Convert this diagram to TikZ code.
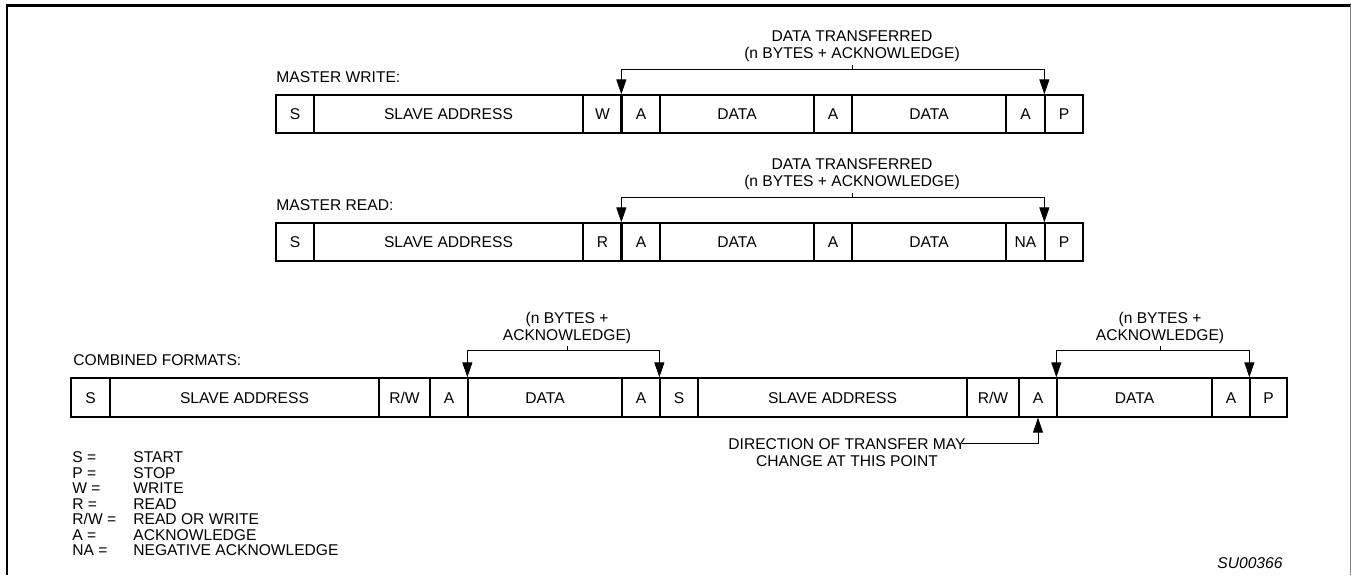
\documentclass[tikz,border=0pt]{standalone}
\usepackage{fontspec}
\setmainfont{Liberation Sans}
\usetikzlibrary{arrows.meta}
\tikzset{
  basefont/.style={font=\fontsize{7.8pt}{8.5pt}\selectfont},
  cell/.style={basefont, draw, line width=0.65pt, inner sep=0pt, text height=5.6pt, text depth=0pt, minimum height=19pt, anchor=center},
  cellc/.style={cell, minimum height=19.5pt},
  lbl/.style={basefont, inner sep=0pt, text height=5.6pt, text depth=0pt, anchor=west},
  tip/.tip={Triangle[length=7.5pt,width=5pt]},
  brk/.style={line width=0.5pt, tip-tip},
  tick/.style={line width=0.5pt},
  toplbl/.style={font=\fontsize{7.8pt}{8.5pt}\selectfont, align=center, inner sep=0pt},
  botlbl/.style={font=\fontsize{7.8pt}{6.5pt}\selectfont, align=center, inner sep=0pt},
  leg/.style={font=\fontsize{7.8pt}{7.75pt}\selectfont, align=left, inner sep=0pt, anchor=north west},
  thickdiv/.style={line width=1.1pt},
}
\newcommand\mycell[6][cell]{\node[#1, minimum width={(#4-#3)*0.5pt}] (#2) at ({(#3+#4)/2},#5) {#6};}
\begin{document}
\begin{tikzpicture}[x=0.5pt,y=-0.5pt]
\useasboundingbox (0,0) rectangle (1351,575);
% frame
\draw[line width=1.25pt] (7,575) -- (7,5.3) -- (1351,5.3);
\draw[gray, line width=0.5pt] (1350,5.3) -- (1350,575);

% ---- MASTER WRITE ----
\node[lbl] (mw) at (276,77) {MASTER WRITE:};
\mycell{w1}{276}{314}{114}{S}
\mycell{w2}{314}{583}{114}{SLAVE ADDRESS}
\mycell{w3}{583}{622}{114}{W}
\mycell{w4}{622}{660}{114}{A}
\mycell{w5}{660}{814}{114}{DATA}
\mycell{w6}{814}{852}{114}{A}
\mycell{w7}{852}{1006}{114}{DATA}
\mycell{w8}{1006}{1045}{114}{A}
\mycell{w9}{1045}{1083}{114}{P}
\draw[thickdiv] (w4.north west) -- (w4.south west);
\draw[brk] (w4.north west) -- ++(0,-25) -| (w9.north west);
\coordinate (t1) at (852,70);
\node[toplbl] (L1) at (852,46.5) {DATA TRANSFERRED\\(n BYTES + ACKNOWLEDGE)};
\draw[tick] (t1) -- ++(0,-5);

% ---- MASTER READ ----
\node[lbl] (mr) at (276,205) {MASTER READ:};
\mycell{r1}{276}{314}{242}{S}
\mycell{r2}{314}{583}{242}{SLAVE ADDRESS}
\mycell{r3}{583}{622}{242}{R}
\mycell{r4}{622}{660}{242}{A}
\mycell{r5}{660}{814}{242}{DATA}
\mycell{r6}{814}{852}{242}{A}
\mycell{r7}{852}{1006}{242}{DATA}
\mycell{r8}{1006}{1045}{242}{NA}
\mycell{r9}{1045}{1083}{242}{P}
\draw[thickdiv] (r4.north west) -- (r4.south west);
\draw[brk] (r4.north west) -- ++(0,-25) -| (r9.north west);
\coordinate (t2) at (852,198);
\node[toplbl] (L2) at (852,174.5) {DATA TRANSFERRED\\(n BYTES + ACKNOWLEDGE)};
\draw[tick] (t2) -- ++(0,-5);

% ---- COMBINED ----
\node[lbl] (cf) at (73,360) {COMBINED FORMATS:};
\mycell[cellc]{c1}{71}{110}{397.5}{S}
\mycell[cellc]{c2}{110}{379}{397.5}{SLAVE ADDRESS}
\mycell[cellc]{c3}{379}{430}{397.5}{R/W}
\mycell[cellc]{c4}{430}{468}{397.5}{A}
\mycell[cellc]{c5}{468}{622}{397.5}{DATA}
\mycell[cellc]{c6}{622}{660}{397.5}{A}
\mycell[cellc]{c7}{660}{698}{397.5}{S}
\mycell[cellc]{c8}{698}{967}{397.5}{SLAVE ADDRESS}
\mycell[cellc]{c9}{967}{1019}{397.5}{R/W}
\mycell[cellc]{c10}{1019}{1057}{397.5}{A}
\mycell[cellc]{c11}{1057}{1212}{397.5}{DATA}
\mycell[cellc]{c12}{1212}{1250}{397.5}{A}
\mycell[cellc]{c13}{1250}{1287}{397.5}{P}
\draw[brk] (c5.north west) -- ++(0,-27) -| (c7.north west);
\coordinate (t3) at (567,351);
\node[botlbl] (L3) at (567,328) {(n BYTES +\\ACKNOWLEDGE)};
\draw[tick] (t3) -- ++(0,-5);
\draw[brk] (c11.north west) -- ++(0,-27) -| (c13.north west);
\coordinate (t4) at (1160,351);
\node[botlbl] (L4) at (1160,328) {(n BYTES +\\ACKNOWLEDGE)};
\draw[tick] (t4) -- ++(0,-5);

% direction note
\node[toplbl] (dir) at (847,453) {DIRECTION OF TRANSFER MAY\\CHANGE AT THIS POINT};
\coordinate (dend) at (962,443);
\draw[line width=0.5pt, -tip] (dend) -| (c10.south);

% legend
\node[leg] (legl) at (72,451.4) {S =\\P =\\W =\\R =\\R/W =\\A =\\NA =};
\node[leg] (legr) at (133,451.4) {START\\STOP\\WRITE\\READ\\READ OR WRITE\\ACKNOWLEDGE\\NEGATIVE ACKNOWLEDGE};

\node[lbl, font=\fontsize{7.8pt}{8.5pt}\selectfont\itshape] (su) at (1217,563) {SU00366};
\end{tikzpicture}
\end{document}
